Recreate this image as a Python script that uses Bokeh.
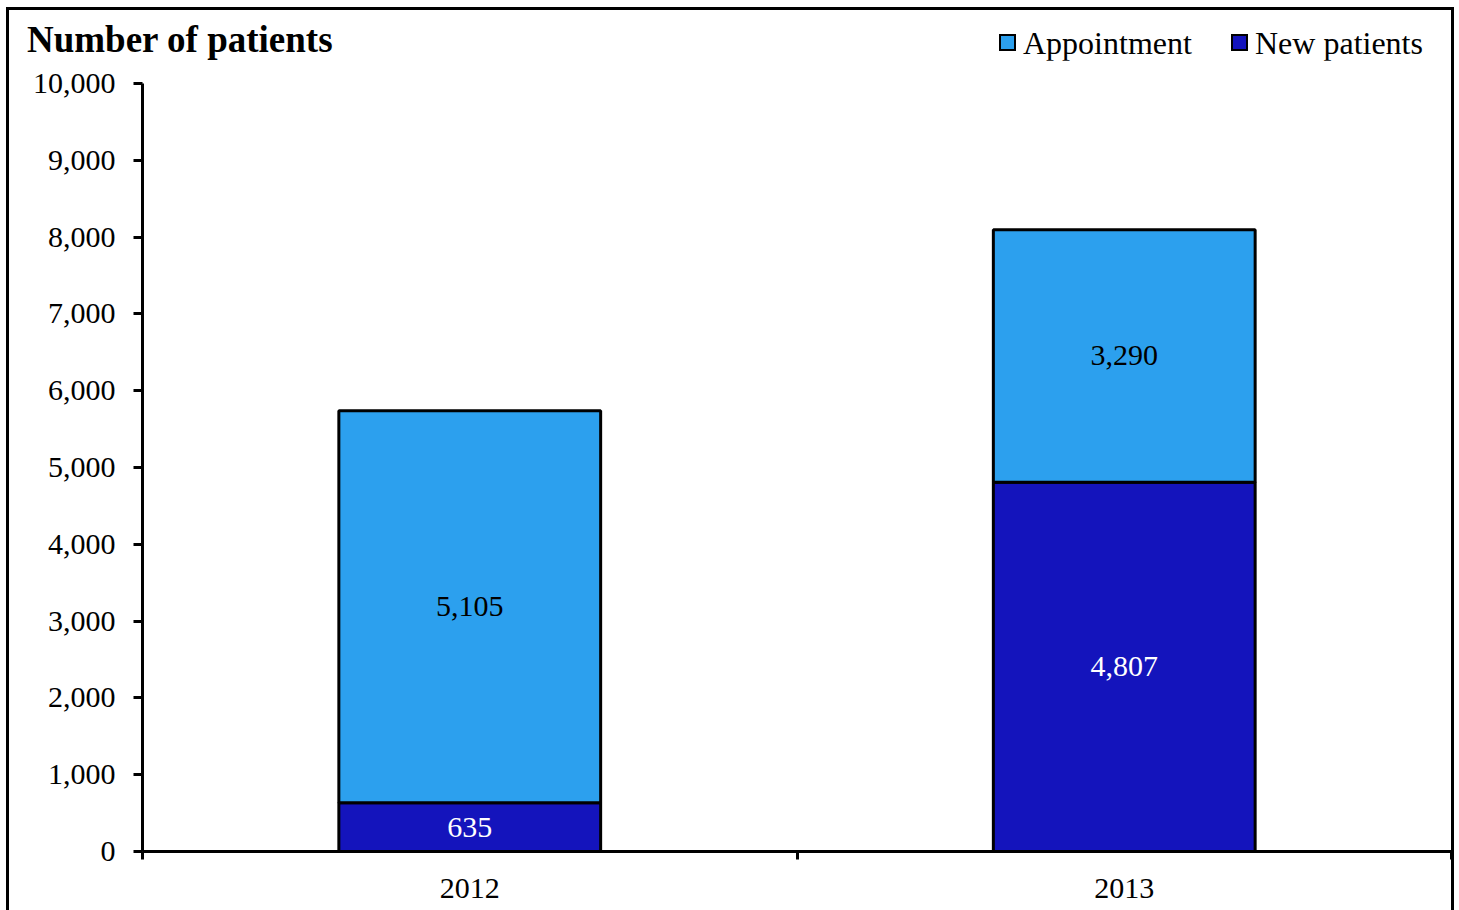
from bokeh.plotting import figure
from bokeh.layouts import column
from bokeh.models import (ColumnDataSource, FixedTicker, NumeralTickFormatter,
                          Range1d, Div)
from bokeh.core.properties import value
from bokeh.embed import file_html
from bokeh.resources import INLINE

years = ["2012", "2013"]
new_patients = [635, 4807]
appointment = [5105, 3290]
y_ticks = [0, 1000, 2000, 3000, 4000, 5000, 6000, 7000, 8000, 9000, 10000]
series_names = ["Appointment", "New patients"]
chart_title = "Number of patients"

FONT = "Liberation Serif"
LIGHT = "#2CA0EE"
DARK = "#1414BC"
series_colors = [LIGHT, DARK]

INNER_W = 1442
HEAD_H = 50
MAIN_H = 850

xpos = [i + 0.5 for i in range(len(years))]
new_lbl = [f"{v:,}" for v in new_patients]
app_lbl = [f"{v:,}" for v in appointment]
new_mid = [v / 2 for v in new_patients]
app_bottom = new_patients
app_top = [a + b for a, b in zip(new_patients, appointment)]
app_mid = [a + b / 2 for a, b in zip(new_patients, appointment)]

src = ColumnDataSource(dict(x=xpos, new=new_patients, app_bottom=app_bottom,
                            app_top=app_top, new_mid=new_mid, app_mid=app_mid,
                            new_lbl=new_lbl, app_lbl=app_lbl))

# ---------------- header: title + legend ----------------
legend_x = [990, 1222]
parts = [f'<div style="position:relative;width:{INNER_W}px;height:{HEAD_H}px;'
         f'font-family:\'{FONT}\';color:black;">',
         f'<span style="position:absolute;left:18px;top:11px;font-size:37px;'
         f'line-height:37px;font-weight:bold;white-space:nowrap;">{chart_title}</span>']
for name, col, lx in zip(series_names, series_colors, legend_x):
    parts.append(f'<span style="position:absolute;left:{lx}px;top:24px;width:17px;'
                 f'height:17px;box-sizing:border-box;border:2.5px solid black;'
                 f'background:{col};"></span>')
    parts.append(f'<span style="position:absolute;left:{lx + 24}px;top:17px;'
                 f'font-size:32px;line-height:32px;white-space:nowrap;">{name}</span>')
parts.append('</div>')
head = Div(text="".join(parts), width=INNER_W, height=HEAD_H, margin=0)

# ---------------- main chart ----------------
p = figure(width=INNER_W, height=MAIN_H, output_backend="svg", toolbar_location=None,
           x_range=Range1d(0, len(years)), y_range=Range1d(0, 10000),
           min_border_left=133, min_border_top=23, min_border_bottom=59,
           min_border_right=0)
p.outline_line_color = None
p.xgrid.visible = False
p.ygrid.visible = False

r_new = p.vbar(x="x", width=0.4, bottom=0, top="new", source=src,
               fill_color=DARK, line_color="black", line_width=3)
r_app = p.vbar(x="x", width=0.4, bottom="app_bottom", top="app_top", source=src,
               fill_color=LIGHT, line_color="black", line_width=3)

p.text(x="x", y="new_mid", text="new_lbl", source=src, text_color="white",
       text_font=value(FONT), text_font_size="30px", text_align="center",
       text_baseline="middle")
p.text(x="x", y="app_mid", text="app_lbl", source=src, text_color="black",
       text_font=value(FONT), text_font_size="30px", text_align="center",
       text_baseline="middle")

ya = p.yaxis[0]
ya.ticker = FixedTicker(ticks=y_ticks, minor_ticks=[])
ya.formatter = NumeralTickFormatter(format="0,0")
ya.axis_line_width = 3
ya.axis_line_color = "black"
ya.major_tick_line_width = 3
ya.major_tick_out = 9
ya.major_tick_in = 0
ya.major_label_standoff = 18
ya.major_label_text_font = FONT
ya.major_label_text_font_size = "30px"
ya.major_label_text_color = "black"

xa = p.xaxis[0]
xa.ticker = FixedTicker(ticks=xpos, minor_ticks=list(range(len(years) + 1)))
xa.major_label_overrides = {xv: y for xv, y in zip(xpos, years)}
xa.axis_line_width = 3
xa.axis_line_color = "black"
xa.major_tick_out = 0
xa.major_tick_in = 0
xa.minor_tick_out = 8
xa.minor_tick_in = 0
xa.minor_tick_line_width = 3
xa.minor_tick_line_color = "black"
xa.major_label_standoff = 19
xa.major_label_text_font = FONT
xa.major_label_text_font_size = "30px"
xa.major_label_text_color = "black"

layout = column(head, p, width=INNER_W + 6, height=HEAD_H + MAIN_H + 3, spacing=0)
layout.styles = {"border-left": "3px solid black", "border-top": "3px solid black",
                 "border-right": "3px solid black", "margin-left": "6px",
                 "margin-top": "7px"}

open("out.html", "w").write(file_html(layout, INLINE))
